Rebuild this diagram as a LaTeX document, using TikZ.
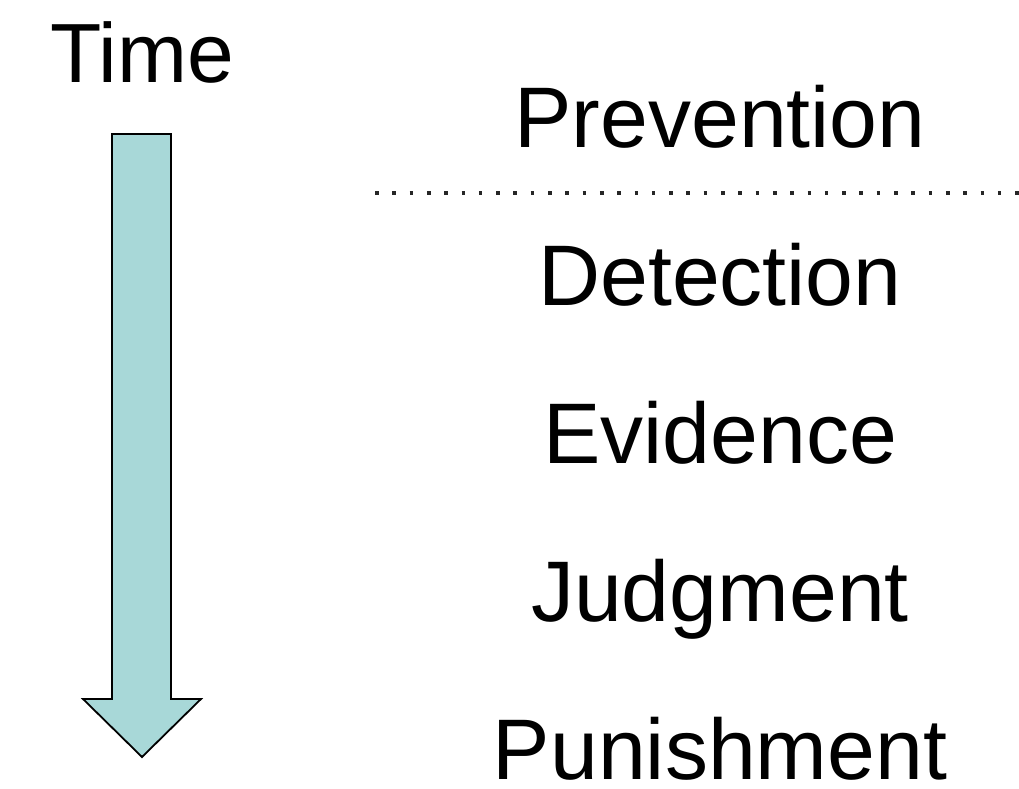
\documentclass[tikz,border=0pt]{standalone}
\usepackage{fontspec}
\setmainfont{Liberation Sans}
\usepackage{tikz}
\usepackage{xcolor}
\definecolor{shaftcol}{RGB}{168,216,216}

\begin{document}
\begin{tikzpicture}[x=1bp,y=1bp,
  stagelabel/.style={anchor=base,inner sep=0pt,text depth=0pt,font=\fontsize{86bp}{100bp}\selectfont}]
\useasboundingbox (0,0) rectangle (1019,789);
% Time arrow
\node[stagelabel,font=\fontsize{84bp}{100bp}\selectfont] (time) at (142,706) {Time};
\draw[line width=1.8bp,fill=shaftcol,line join=miter]
  (112,655) -- (171,655) -- (171,90) -- (201,90) -- (142,32) -- (83,90) -- (112,90) -- cycle;

% Stages
\foreach \name/\word [count=\i] in {prev/Prevention,det/Detection,evid/Evidence,judg/Judgment,pun/Punishment}
  \node[stagelabel] (\name) at (720,{641-158*(\i-1)}) {\word};

% Dotted separator
\coordinate (sepL) at (375,596);
\coordinate (sepR) at (1019,596);
\draw[dash pattern=on 3.6bp off 13.7bp,line width=3.6bp,black!85] (sepL) -- (sepR);
\end{tikzpicture}
\end{document}
